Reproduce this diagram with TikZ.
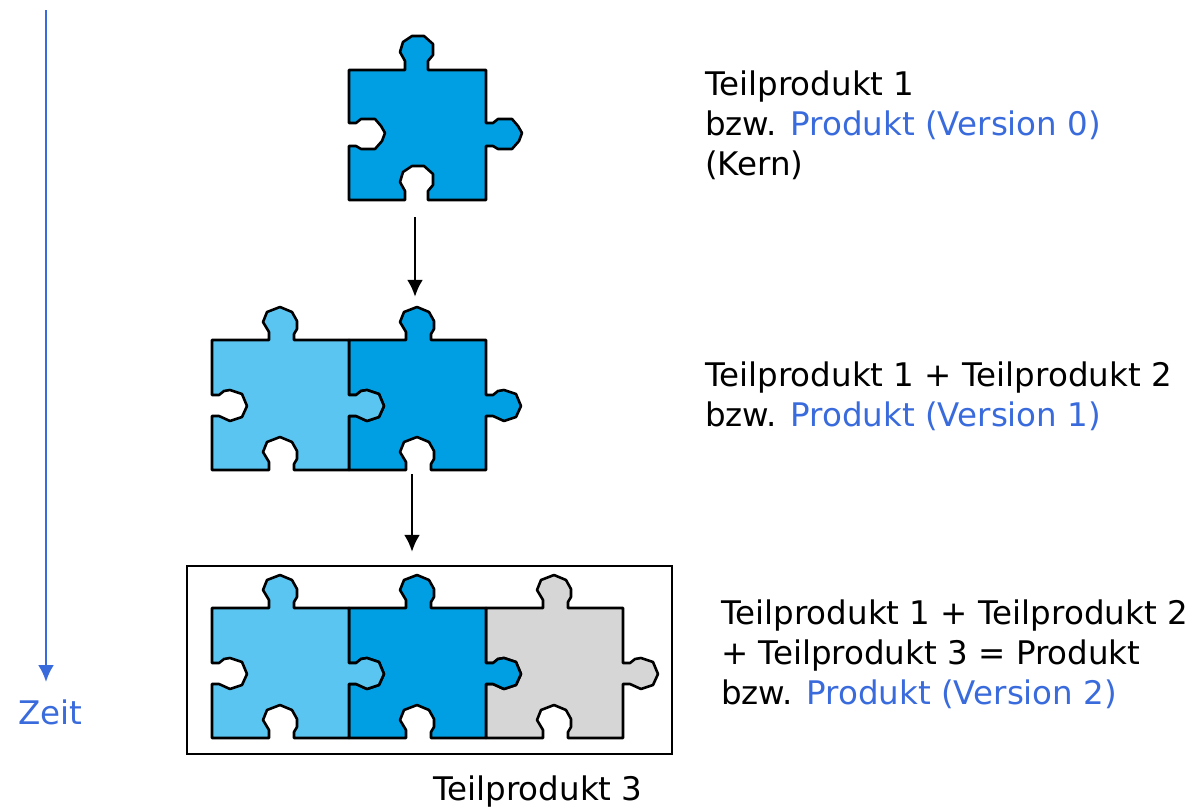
\documentclass[tikz,border=0pt]{standalone}
\usepackage{fontspec}
\setmainfont{DejaVu Sans}
\usetikzlibrary{positioning, arrows.meta}

\definecolor{kernblau}{HTML}{009FE3}
\definecolor{hellblau}{HTML}{5BC5F2}
\definecolor{teilgrau}{HTML}{D6D6D6}
\definecolor{zeitblau}{HTML}{3A6BDC}

% first piece, edgier outline: name, top left corner, fill
\newcommand{\kernstueck}[4]{
  \begin{scope}[shift={(#2,#3)}]
    \draw[teilrand,fill=#4] (0,0) -- (56,0) -- (56,-9) -- (51,-18) -- (54,-28) -- (63,-34) -- (75,-34) -- (84,-26) -- (84,-15) -- (79,-9) -- (79,0)
      -- (137,0) -- (137,53) -- (144,53) -- (149,49) -- (163,49) -- (169,56) -- (173,63) -- (170,71) -- (163,79) -- (149,79) -- (144,76) -- (137,76)
      -- (137,130) -- (79,130) -- (79,121) -- (84,115) -- (84,104) -- (75,96) -- (63,96) -- (54,102) -- (51,112) -- (56,121) -- (56,130)
      -- (0,130) -- (0,76) -- (7,76) -- (12,79) -- (26,79) -- (33,71) -- (36,63) -- (32,56) -- (26,49) -- (12,49) -- (7,53) -- (0,53) -- cycle;
    \node[teilfeld] (#1) at (68.5,65) {};
  \end{scope}
}
% the other pieces: name, top left corner, fill
\newcommand{\teilstueck}[4]{
  \begin{scope}[shift={(#2,#3)}]
    \draw[teilrand,fill=#4] (0,0) -- (57,0) -- (57,-8) -- (51,-18) -- (55,-28) -- (68,-33) -- (80,-28) -- (85,-19) -- (85,-11) -- (82,-6) -- (82,0)
      -- (137,0) -- (137,55) -- (144,55) -- (149,51) -- (155,50) -- (167,54) -- (172,66) -- (167,77) -- (155,81) -- (144,76) -- (137,76)
      -- (137,130) -- (82,130) -- (82,124) -- (85,119) -- (85,111) -- (80,102) -- (68,97) -- (55,102) -- (51,112) -- (57,122) -- (57,130)
      -- (0,130) -- (0,76) -- (7,76) -- (18,81) -- (30,77) -- (35,66) -- (30,54) -- (18,50) -- (12,51) -- (7,55) -- (0,55) -- cycle;
    \node[teilfeld] (#1) at (68.5,65) {};
  \end{scope}
}

\begin{document}
\begin{tikzpicture}[x=1pt,y=-1pt,
    teilrand/.style={draw=black,line width=2.6pt,line join=round},
    teilfeld/.style={inner sep=0pt,minimum width=137pt,minimum height=130pt},
    pfeil/.style={line width=2.4pt,-{Latex[length=17pt,width=16pt]}},
    zeitpfeil/.style={draw=zeitblau,line width=2.4pt,-{Latex[length=17pt,width=16pt]}},
    beschriftung/.style={anchor=north west,align=left,inner sep=0pt,font=\fontsize{32.5}{40}\selectfont}]
  \useasboundingbox (0,0) rectangle (1193,809);

  % Zeit
  \coordinate (zeitanfang) at (46,10);
  \coordinate (zeitende) at (46,682);
  \draw[zeitpfeil] (zeitanfang) -- (zeitende);
  \node[beschriftung,text=zeitblau] (zeit) at (18,700) {Zeit};

  % Rahmen
  \node[draw,line width=2.6pt,inner sep=0pt,minimum width=485pt,minimum height=188pt] (rahmen) at (429.5,660) {};

  % Version 0
  \kernstueck{kern}{349}{70}{kernblau}

  % Version 1
  \teilstueck{zweiKern}{349}{340}{kernblau}
  \teilstueck{zweiTeil}{212}{340}{hellblau}

  % Version 2
  \teilstueck{dreiTeilDrei}{486}{608}{teilgrau}
  \teilstueck{dreiKern}{349}{608}{kernblau}
  \teilstueck{dreiTeil}{212}{608}{hellblau}

  % Pfeile
  \draw[pfeil] ([xshift=-2.5pt,yshift=-17pt]kern.south) -- ([xshift=-2.5pt,yshift=43pt]zweiKern.north);
  \draw[pfeil] ([xshift=-5.5pt,yshift=-4pt]zweiKern.south) -- ([xshift=-5.5pt,yshift=56pt]dreiKern.north);

  % Texte
  \node[beschriftung] (text0) at (705,71) {Teilprodukt 1\\bzw. \textcolor{zeitblau}{Produkt (Version 0)}\\(Kern)};
  \node[beschriftung] (text1) at (705,362) {Teilprodukt 1 + Teilprodukt 2\\bzw. \textcolor{zeitblau}{Produkt (Version 1)}};
  \node[beschriftung] (text2) at (721,600) {Teilprodukt 1 + Teilprodukt 2\\+ Teilprodukt 3 = Produkt\\bzw. \textcolor{zeitblau}{Produkt (Version 2)}};
  \node[beschriftung] (text3) at (433,776) {Teilprodukt 3};
\end{tikzpicture}
\end{document}
